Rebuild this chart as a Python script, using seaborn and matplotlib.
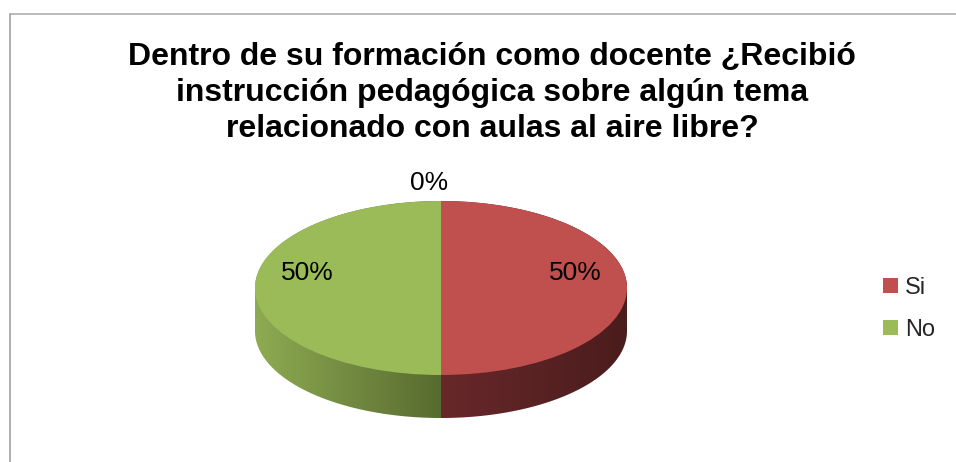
import numpy as np
import matplotlib
matplotlib.use("Agg")
import matplotlib.pyplot as plt
import seaborn as sns
from matplotlib.patches import Polygon, Patch
from matplotlib.lines import Line2D
from matplotlib.colors import to_rgb

# ---------------- data ----------------
categories = ["Si", "No", ""]
values = [50, 50, 0]
legend_labels = ["Si", "No"]
title_lines = [
    "Dentro de su formación como docente ¿Recibió",
    "instrucción pedagógica sobre algún tema",
    "relacionado con aulas al aire libre?",
]

# ---------------- style ----------------
top_colors = ["#C0504D", "#9BBB59", "#4F81BD"]
# side shading: (colour near pie centre line, colour at outer edge)
side_colors = [("#68282A", "#4B1C1D"), ("#586B30", "#8EAB52"), ("#3A5F8F", "#2A4A70")]

sns.set_theme(style="white")
plt.rcParams["font.family"] = ["Liberation Sans", "DejaVu Sans"]

W, H = 956, 462
fig = plt.figure(figsize=(W / 100, H / 100), dpi=100)
fig.patch.set_facecolor("white")

# pie geometry (pixels)
cx, cy = 441, 288
a, b = 186, 87
depth = 43
xl = (-1.3, 1.3)
yl = (-1.8, 1.4)
left = cx + xl[0] * a
bottom = (H - cy) + yl[0] * b
ax = fig.add_axes([left / W, bottom / H, (xl[1] - xl[0]) * a / W, (yl[1] - yl[0]) * b / H])

d = depth / b
bot_w, _ = ax.pie(values, startangle=90, counterclock=False, center=(0, -d),
                  colors=top_colors, wedgeprops=dict(linewidth=0))
top_w, _ = ax.pie(values, startangle=90, counterclock=False, center=(0, 0),
                  colors=top_colors, wedgeprops=dict(linewidth=0))


def wedge_pts(w):
    t = np.deg2rad(np.linspace(w.theta1, w.theta2, 400))
    cxy = np.asarray(w.center, dtype=float)
    arc = np.column_stack([cxy[0] + w.r * np.cos(t), cxy[1] + w.r * np.sin(t)])
    return np.vstack([arc, cxy[None, :]])


def hull(points):
    pts = sorted(set(map(tuple, np.round(points, 7))))
    if len(pts) <= 2:
        return np.array(pts)

    def cross(o, p, q):
        return (p[0] - o[0]) * (q[1] - o[1]) - (p[1] - o[1]) * (q[0] - o[0])

    lower, upper = [], []
    for p in pts:
        while len(lower) >= 2 and cross(lower[-2], lower[-1], p) <= 0:
            lower.pop()
        lower.append(p)
    for p in reversed(pts):
        while len(upper) >= 2 and cross(upper[-2], upper[-1], p) <= 0:
            upper.pop()
        upper.append(p)
    return np.array(lower[:-1] + upper[:-1])


for i, (tw, bw, v) in enumerate(zip(top_w, bot_w, values)):
    bw.set_visible(False)
    tw.set_zorder(5)
    if v <= 0:
        continue
    pts = np.vstack([wedge_pts(tw), wedge_pts(bw)])
    hp = hull(pts)
    clip = Polygon(hp, closed=True, transform=ax.transData, facecolor="none", edgecolor="none")
    ax.add_patch(clip)
    x0, x1 = hp[:, 0].min(), hp[:, 0].max()
    y0, y1 = hp[:, 1].min(), hp[:, 1].max()
    xs = np.linspace(x0, x1, 300)
    t = np.clip(np.abs(xs), 0, 1)[:, None]
    c0 = np.array(to_rgb(side_colors[i][0]))
    c1 = np.array(to_rgb(side_colors[i][1]))
    grad = (c0 + (c1 - c0) * t)[None, :, :]
    im = ax.imshow(grad, extent=(x0, x1, y0, y1), aspect="auto", origin="lower",
                   interpolation="bilinear", zorder=2)
    im.set_clip_path(clip)

# percentage labels
total = sum(values)
for tw, v in zip(top_w, values):
    mid = np.deg2rad((tw.theta1 + tw.theta2) / 2)
    pct = f"{round(100 * v / total)}%"
    if v > 0:
        r = 0.72
        off = (0, 15)
    else:
        r = 1.0
        off = (-12, 18)
    ax.annotate(pct, xy=(r * np.cos(mid), r * np.sin(mid)), xytext=off,
                textcoords="offset pixels", ha="center", va="center",
                fontsize=19, color="black", zorder=10)

ax.set_xlim(*xl)
ax.set_ylim(*yl)
ax.set_aspect("auto")
ax.axis("off")

# legend
handles = [Patch(facecolor=top_w[i].get_facecolor(), edgecolor="none") for i in range(len(legend_labels))]
fig.legend(handles, legend_labels, loc="center left", bbox_to_anchor=(883 / W, (H - 309) / H),
           frameon=False, fontsize=17, handlelength=0.62, handleheight=0.62,
           handletextpad=0.3, labelspacing=0.85, borderpad=0, borderaxespad=0)

# title
baselines = [64.5, 101, 137]
for line, yb in zip(title_lines, baselines):
    fig.text(492 / W, (H - yb) / H, line, ha="center", va="baseline",
             fontsize=23, fontweight="bold", color="black")

# chart frame (cropped on right and bottom)
frame_col = "#A8A8A8"
fig.add_artist(Line2D([9.5 / W, 1.0], [(H - 14) / H, (H - 14) / H], transform=fig.transFigure,
                      color=frame_col, lw=1.1))
fig.add_artist(Line2D([9.5 / W, 9.5 / W], [0, (H - 14) / H], transform=fig.transFigure,
                      color=frame_col, lw=1.3))

fig.savefig("out.png", dpi=100, facecolor="white")
